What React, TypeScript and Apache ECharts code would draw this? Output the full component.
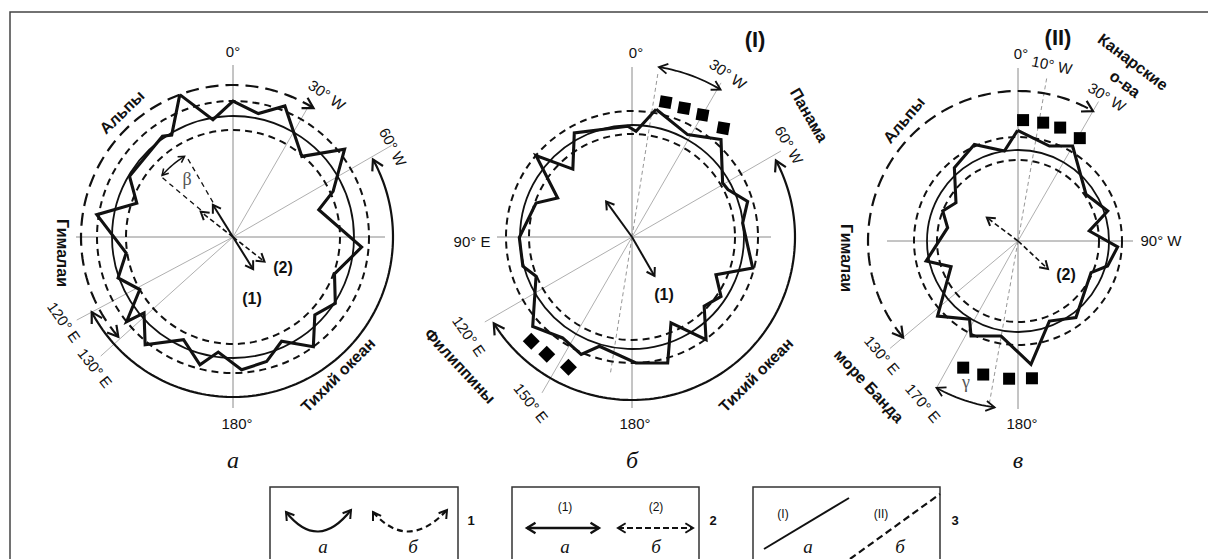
import React, { useEffect, useRef } from "react";
import * as echarts from "echarts";

// ---------- DATA (angle in degrees clockwise from 0°, i.e. W longitudes positive; radius in chart units) ----------
const PROFILE_A: number[][] = [
  [339.5, 152], [350.3, 119], [0, 136], [11.6, 126], [21.6, 141], [40.5, 106], [51.8, 142], [65.5, 110],
  [72.4, 90], [94.5, 129], [110, 108], [123, 122], [133.6, 113], [143.8, 136], [155, 115], [164.9, 129],
  [176.3, 133], [187.3, 116], [194.5, 132], [205.7, 114], [219.2, 139], [229.5, 117], [231.5, 136],
  [240.6, 107], [250.4, 122], [261.5, 108], [279.3, 138], [289.4, 102], [300.4, 120], [325, 123], [329, 119],
];
const PROFILE_B: number[][] = [
  [10.7, 130], [28.5, 116.5], [42.4, 132], [59.2, 105.5], [63.7, 107], [72.9, 121], [82.8, 111.5],
  [104.4, 124.6], [114.2, 92], [123.7, 107], [133.8, 100], [144.2, 126.6], [155.6, 94.4], [164.2, 131],
  [178.2, 126], [196.6, 114], [203.4, 128], [214.5, 122.5], [228, 133.6], [247.7, 103.7], [255, 113],
  [269.7, 112.7], [289.5, 101.8], [297.7, 84], [310.3, 125.8], [318.9, 90], [331, 119], [357.8, 110.8], [2.2, 105.7],
];
const PROFILE_C: number[][] = [
  [359.8, 110.7], [18.3, 100], [29.9, 109.6], [55.5, 82.5], [71.5, 94.6], [82, 72], [93.4, 99.8],
  [105.6, 93], [113.4, 79.6], [142.9, 96], [158.6, 86], [174, 124], [190.1, 96.5], [206.3, 106],
  [211.8, 92], [227, 110], [249, 71.7], [257.7, 94], [280.7, 71.6], [291.7, 81], [301.7, 72.9],
  [319, 97], [335.7, 106], [351.4, 91],
];
const SQUARES_B_TOP: number[][] = [[14, 139], [22, 139], [30, 141], [40, 142]];
const SQUARES_B_BOTTOM: number[][] = [[206, 145], [216, 145], [224, 145]];
const SQUARES_C_TOP: number[][] = [[2.4, 121], [12, 121], [20.4, 121], [31, 120]];
const SQUARES_C_BOTTOM: number[][] = [[174.2, 138], [183.7, 138], [194.6, 138], [203.4, 138]];
// circle radii: [solid, inner dashed, outer dashed]
const CIRCLES_A = [121, 107, 136];
const CIRCLES_B = [112, 103, 126];
const CIRCLES_C = [91, 81, 104];

// ---------- layout ----------
const CENTERS = [[233, 237], [632, 237], [1018, 241]];
const SANS = '"Liberation Sans", Arial, sans-serif';
const SERIF = '"Liberation Serif", "DejaVu Serif", serif';
const INK = "#111";
const GRAY = "#8a8a8a";

type Spec = any;

const circ = (r: number, dash?: number[], w = 2): Spec => ({ k: "circle", r, dash, w });
const arc = (r: number, a0: number, a1: number, dash?: number[], w = 2.2, hl = 12): Spec => ({ k: "arc", r, a0, a1, dash, w, hl });
const ray = (a: number, r0: number, r1: number, opt: any = {}): Spec => ({ k: "ray", a, r0, r1, ...opt });

const axes = (t: number, b: number, r: number, l: number): Spec[] => [
  ray(0, 0, t, { c: GRAY, w: 1 }), ray(180, 0, b, { c: GRAY, w: 1 }),
  ray(90, 0, r, { c: GRAY, w: 1 }), ray(270, 0, l, { c: GRAY, w: 1 }),
];
const thin = (a: number, len: number): Spec => ray(a, 0, len, { c: "#9a9a9a", w: 0.8 });
const thinDash = (a: number, len: number): Spec => ray(a, 0, len, { c: "#8a8a8a", w: 0.9, dash: [4, 3] });

const SPECS_A: Spec[] = [
  ...axes(172, 171, 152, 157),
  thin(30, 151), thin(60, 183), thin(228, 178), thin(242, 177),
  circ(CIRCLES_A[0], undefined, 1.8), circ(CIRCLES_A[1], [7, 5]), circ(CIRCLES_A[2], [7, 5]),
  arc(152, 229, 392, [13, 7]), arc(160, 61, 242),
  ray(328, 0, 38, { w: 2, head: true }), ray(148, 0, 38, { w: 2, head: true }),
  ray(308, 0, 41, { w: 1.6, dash: [5, 3], head: true }), ray(128, 0, 40, { w: 1.6, dash: [5, 3], head: true }),
  ray(330, 40, 93, { w: 1.3, dash: [5, 4] }), ray(310, 42, 95, { w: 1.3, dash: [5, 4] }),
  arc(94, 311, 329, undefined, 1.5, 7),
];
const SPECS_B: Spec[] = [
  ...axes(170, 171, 139, 135),
  thin(30, 178), thin(210, 180), thin(60, 172), thin(240, 170), thinDash(9, 166), thinDash(189, 138),
  circ(CIRCLES_B[0], undefined, 1.8), circ(CIRCLES_B[1], [7, 5]), circ(CIRCLES_B[2], [7, 5]),
  arc(163, 62, 238), arc(172, 9, 31, undefined, 1.8, 10),
  ray(324, 0, 44, { w: 2, head: true }), ray(150, 0, 45, { w: 2, head: true }),
];
const SPECS_C: Spec[] = [
  ...axes(173, 168, 115, 131),
  thin(30, 161), thin(209, 169), thin(230, 167), thinDash(10, 167), thinDash(190, 167),
  circ(CIRCLES_C[0], undefined, 1.8), circ(CIRCLES_C[1], [7, 5]), circ(CIRCLES_C[2], [7, 5]),
  arc(150, 230, 390, [13, 7]), arc(168, 188, 209, undefined, 1.8, 10),
  ray(307, 0, 39, { w: 1.6, dash: [5, 3], head: true }), ray(133, 0, 41, { w: 1.6, dash: [5, 3], head: true }),
];

function headPoints(tip: number[], from: number[], len: number, spread = 30) {
  const dx = tip[0] - from[0], dy = tip[1] - from[1];
  const L = Math.hypot(dx, dy) || 1;
  const ux = dx / L, uy = dy / L;
  const s = (spread * Math.PI) / 180, cs = Math.cos(s), sn = Math.sin(s);
  const p1 = [tip[0] - len * (ux * cs - uy * sn), tip[1] - len * (uy * cs + ux * sn)];
  const p2 = [tip[0] - len * (ux * cs + uy * sn), tip[1] - len * (uy * cs - ux * sn)];
  return [p1, tip, p2];
}

function makeRender(specs: Spec[]) {
  return (params: any, api: any) => {
    const s = specs[params.dataIndex];
    const norm = (a: number) => ((a % 360) + 360) % 360;
    const P = (r: number, a: number) => api.coord([r, norm(a)]);
    const c = s.c || INK;
    const base = { fill: "none", stroke: c, lineWidth: s.w || 2, lineDash: s.dash || null };
    const children: any[] = [];
    if (s.k === "circle") {
      const o = P(0, 0);
      const e = P(s.r, 0);
      children.push({ type: "circle", shape: { cx: o[0], cy: o[1], r: Math.hypot(e[0] - o[0], e[1] - o[1]) }, style: base });
    } else if (s.k === "arc") {
      const pts: number[][] = [];
      const n = Math.max(4, Math.ceil(Math.abs(s.a1 - s.a0) / 1.5));
      for (let i = 0; i <= n; i++) pts.push(P(s.r, s.a0 + ((s.a1 - s.a0) * i) / n));
      children.push({ type: "polyline", shape: { points: pts }, style: base });
      const sg = Math.sign(s.a1 - s.a0);
      const hs = { fill: "none", stroke: c, lineWidth: s.w, lineDash: null };
      children.push({ type: "polyline", shape: { points: headPoints(P(s.r, s.a1), P(s.r, s.a1 - sg * 4), s.hl) }, style: hs });
      children.push({ type: "polyline", shape: { points: headPoints(P(s.r, s.a0), P(s.r, s.a0 + sg * 4), s.hl) }, style: hs });
    } else {
      const a = P(s.r0, s.a), b = P(s.r1, s.a);
      children.push({ type: "line", shape: { x1: a[0], y1: a[1], x2: b[0], y2: b[1] }, style: base });
      if (s.head) {
        children.push({
          type: "polyline",
          shape: { points: headPoints(b, P(Math.max(0, s.r1 - 6), s.a), 9, 32) },
          style: { fill: "none", stroke: c, lineWidth: 2, lineDash: null },
        });
      }
    }
    return { type: "group", children };
  };
}

type Lab = [string, number, number, number, string];
const TICK = `15px ${SANS}`;
const BOLD = `bold 16px ${SANS}`;
const NUM = `bold 16px ${SANS}`;
const ROMAN = `bold 22px ${SANS}`;
const LETTER = `italic 24px ${SERIF}`;
const LABELS: Lab[] = [
  ["0°", 233, 51, 0, TICK], ["30° W", 327, 95, 35, TICK], ["60° W", 393, 147, 62, TICK],
  ["120° E", 64, 322, 55, TICK], ["130° E", 95, 368, 52, TICK], ["180°", 237, 423, 0, TICK],
  ["Альпы", 122, 112, -44, BOLD], ["Гималаи", 62, 253, 90, BOLD], ["Тихий океан", 338, 375, -45, BOLD],
  ["(1)", 252, 298, 0, NUM], ["(2)", 283, 267, 0, NUM], ["а", 233, 460, 0, LETTER],
  ["(I)", 755, 39, 0, ROMAN], ["0°", 636, 52, 0, TICK], ["30° W", 728, 74, 35, TICK],
  ["Панама", 809, 115, 60, BOLD], ["60° W", 789, 145, 60, TICK], ["90° E", 472, 241, 0, TICK],
  ["120° E", 469, 336, 55, TICK], ["150° E", 531, 403, 52, TICK], ["Филиппины", 460, 366, 47, BOLD],
  ["Тихий океан", 756, 375, -45, BOLD], ["180°", 635, 423, 0, TICK], ["(1)", 664, 294, 0, NUM],
  ["б", 632, 460, 0, LETTER],
  ["(II)", 1058, 37, 0, ROMAN], ["0°", 1021, 53, 0, TICK], ["10° W", 1052, 65, 12, TICK],
  ["Канарские", 1133, 62, 37, BOLD], ["о-ва", 1125, 84, 37, BOLD], ["30° W", 1107, 97, 32, TICK],
  ["Альпы", 904, 120, -50, BOLD], ["Гималаи", 846, 258, 90, BOLD], ["90° W", 1161, 240, 0, TICK],
  ["130° E", 882, 355, 50, TICK], ["170° E", 923, 403, 50, TICK], ["море Банда", 869, 386, 47, BOLD],
  ["(2)", 1066, 274, 0, NUM], ["180°", 1022, 423, 0, TICK], ["в", 1018, 460, 0, LETTER],
];

function textEl(text: string, x: number, y: number, rot: number, font: string, fill = "#111") {
  return {
    type: "text", x, y, rotation: (-rot * Math.PI) / 180, silent: true, z: 10,
    style: { text, font, fill, textAlign: "center", textVerticalAlign: "middle", align: "center", verticalAlign: "middle" },
  };
}
function headEl(tip: number[], from: number[], len = 9, w = 2) {
  return { type: "polyline", silent: true, shape: { points: headPoints(tip, from, len, 32) }, style: { fill: "none", stroke: INK, lineWidth: w } };
}

function buildGraphic() {
  const g: any[] = [];
  g.push({ type: "rect", silent: true, shape: { x: 10, y: 12, width: 1200, height: 600 }, style: { fill: "none", stroke: "#444", lineWidth: 1.5 } });
  for (const [t, x, y, r, f] of LABELS) g.push(textEl(t, x, y, r, f));
  g.push(textEl("β", 187, 179, 0, `18px ${SERIF}`, "#555"));
  g.push(textEl("γ", 966, 382, 0, `18px ${SERIF}`, "#555"));
  // legend boxes
  const boxes = [[270, 188], [512, 187], [753, 187]];
  for (const [x, w] of boxes) g.push({ type: "rect", silent: true, shape: { x, y: 487, width: w, height: 100 }, style: { fill: "none", stroke: "#333", lineWidth: 1.5 } });
  g.push(textEl("1", 471, 520, 0, `bold 13px ${SANS}`));
  g.push(textEl("2", 713, 520, 0, `bold 13px ${SANS}`));
  g.push(textEl("3", 955, 520, 0, `bold 13px ${SANS}`));
  const LL = `italic 19px ${SERIF}`;
  // box 1
  g.push({ type: "bezierCurve", silent: true, shape: { x1: 286, y1: 512, x2: 351, y2: 510, cpx1: 318, cpy1: 552 }, style: { fill: "none", stroke: INK, lineWidth: 2.2 } });
  g.push(headEl([286, 512], [292, 520]));
  g.push(headEl([351, 510], [345, 518]));
  g.push({ type: "bezierCurve", silent: true, shape: { x1: 373, y1: 512, x2: 447, y2: 510, cpx1: 408, cpy1: 552 }, style: { fill: "none", stroke: INK, lineWidth: 2.2, lineDash: [6, 4] } });
  g.push(headEl([373, 512], [378, 520]));
  g.push(headEl([447, 510], [441, 518]));
  g.push(textEl("а", 323, 546, 0, LL));
  g.push(textEl("б", 413, 546, 0, LL));
  // box 2
  g.push(textEl("(1)", 565, 507, 0, `12px ${SANS}`));
  g.push(textEl("(2)", 656, 507, 0, `12px ${SANS}`));
  g.push({ type: "line", silent: true, shape: { x1: 527, y1: 528, x2: 599, y2: 528 }, style: { stroke: INK, lineWidth: 2.4 } });
  g.push(headEl([527, 528], [535, 528], 10, 2.4));
  g.push(headEl([599, 528], [591, 528], 10, 2.4));
  g.push({ type: "line", silent: true, shape: { x1: 618, y1: 528, x2: 693, y2: 528 }, style: { stroke: INK, lineWidth: 2.2, lineDash: [6, 3] } });
  g.push(headEl([618, 528], [626, 528], 9, 2));
  g.push(headEl([693, 528], [685, 528], 9, 2));
  g.push(textEl("а", 565, 546, 0, LL));
  g.push(textEl("б", 656, 546, 0, LL));
  // box 3
  g.push({ type: "line", silent: true, shape: { x1: 764, y1: 549, x2: 849, y2: 498 }, style: { stroke: INK, lineWidth: 2 } });
  g.push(textEl("(I)", 783, 514, 0, `12px ${SANS}`));
  g.push({ type: "line", silent: true, shape: { x1: 850, y1: 559, x2: 940, y2: 494 }, style: { stroke: INK, lineWidth: 2.2, lineDash: [7, 4] } });
  g.push(textEl("(II)", 881, 514, 0, `12px ${SANS}`));
  g.push(textEl("а", 808, 546, 0, LL));
  g.push(textEl("б", 900, 546, 0, LL));
  return g;
}

const toPolar = (arr: number[][], close: boolean) => {
  const d = arr.map(([a, r]) => [r, a]);
  if (close) d.push(d[0]);
  return d;
};

export default function App() {
  const ref = useRef<HTMLDivElement>(null);
  useEffect(() => {
    if (!ref.current) return;
    const chart = echarts.init(ref.current, undefined, { renderer: "svg" });
    const hidden = { axisLine: { show: false }, axisTick: { show: false }, axisLabel: { show: false }, splitLine: { show: false } };
    const specsList = [SPECS_A, SPECS_B, SPECS_C];
    const profiles = [PROFILE_A, PROFILE_B, PROFILE_C];
    const series: any[] = [];
    specsList.forEach((specs, i) => {
      series.push({
        type: "custom", coordinateSystem: "polar", polarIndex: i, silent: true, z: 2, clip: false,
        data: specs.map(() => [0, 0]), renderItem: makeRender(specs),
      });
      series.push({
        type: "line", coordinateSystem: "polar", polarIndex: i, silent: true, z: 4, symbol: "none",
        data: toPolar(profiles[i], true), lineStyle: { color: INK, width: 3.1, join: "miter" },
      });
    });
    const sq = (pi: number, data: number[][], rot: number) => ({
      type: "scatter", coordinateSystem: "polar", polarIndex: pi, silent: true, z: 5,
      symbol: "rect", symbolSize: 12, symbolRotate: rot, itemStyle: { color: "#000", opacity: 1 },
      data: toPolar(data, false),
    });
    series.push(sq(1, SQUARES_B_TOP, -10), sq(1, SQUARES_B_BOTTOM, 45), sq(2, SQUARES_C_TOP, 0), sq(2, SQUARES_C_BOTTOM, 0));

    chart.setOption({
      animation: false,
      backgroundColor: "#fff",
      polar: CENTERS.map((c) => ({ center: c, radius: 200 })),
      angleAxis: CENTERS.map((_, i) => ({ polarIndex: i, type: "value", min: 0, max: 360, startAngle: 90, clockwise: true, ...hidden })),
      radiusAxis: CENTERS.map((_, i) => ({ polarIndex: i, type: "value", min: 0, max: 200, ...hidden })),
      series,
      graphic: buildGraphic(),
    });
    return () => chart.dispose();
  }, []);
  return <div ref={ref} style={{ position: "absolute", left: 0, top: 0, width: 1208, height: 559, background: "#fff" }} />;
}
